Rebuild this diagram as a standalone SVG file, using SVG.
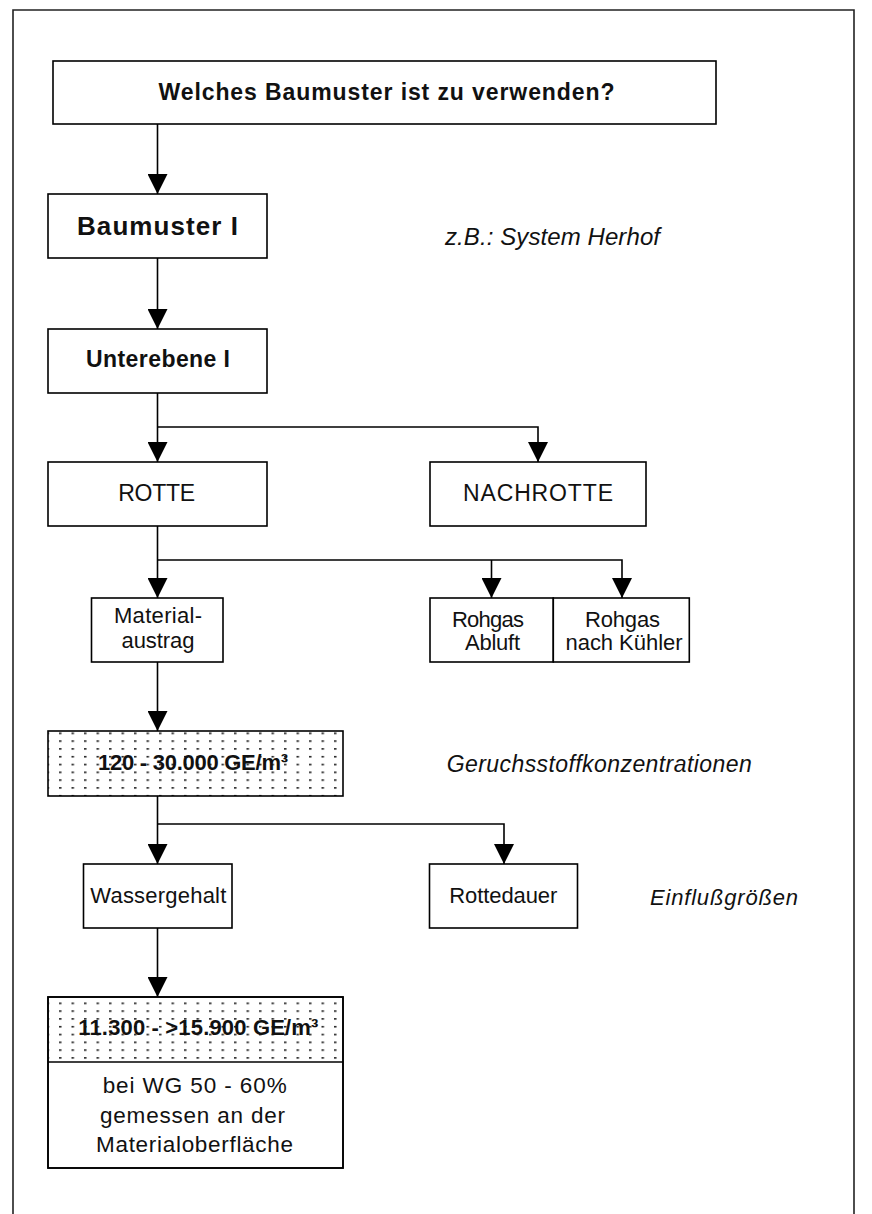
<svg xmlns="http://www.w3.org/2000/svg" width="872" height="1214" viewBox="0 0 872 1214">
<defs>
<style>
.box{fill:#fff;stroke:#000;stroke-width:1.6}
.dotbox{stroke:#000;stroke-width:1.6}
.con{fill:none;stroke:#000;stroke-width:1.6}
.t{font-family:"Liberation Sans",Arial,sans-serif;fill:#111}
.b{font-weight:bold}
.i{font-style:italic}
.m{text-anchor:middle}
</style>
<marker id="ah" markerUnits="userSpaceOnUse" markerWidth="20" markerHeight="20" refX="20" refY="10" orient="auto" viewBox="0 0 20 20">
<path d="M0,0 L20,10 L0,20 Z" fill="#000"/>
</marker>
<pattern id="dots1" patternUnits="userSpaceOnUse" x="59" y="732.5" width="12.5" height="7.8">
<rect x="0" y="0" width="2.5" height="1.6" fill="#222"/>
</pattern>
<pattern id="dots2" patternUnits="userSpaceOnUse" x="59" y="1002.5" width="12.5" height="7.8">
<rect x="0" y="0" width="2.5" height="1.6" fill="#222"/>
</pattern>
</defs>
<rect width="872" height="1214" fill="#fff"/>
<path d="M13,1214 V10 H854 V1214" fill="none" stroke="#222" stroke-width="1.6"/>

<g id="connectors">
<path class="con" d="M157.5,124 V194" marker-end="url(#ah)"/>
<path class="con" d="M157.5,258 V329" marker-end="url(#ah)"/>
<path class="con" d="M157.5,393 V462" marker-end="url(#ah)"/>
<path class="con" d="M157.5,427 H538 V462" marker-end="url(#ah)"/>
<path class="con" d="M157.5,526 V598" marker-end="url(#ah)"/>
<path class="con" d="M157.5,560 H622 V598" marker-end="url(#ah)"/>
<path class="con" d="M491.5,560 V598" marker-end="url(#ah)"/>
<path class="con" d="M157.5,662 V731" marker-end="url(#ah)"/>
<path class="con" d="M157.5,796 V864" marker-end="url(#ah)"/>
<path class="con" d="M157.5,824 H504 V864" marker-end="url(#ah)"/>
<path class="con" d="M157.5,928 V997" marker-end="url(#ah)"/>
</g>

<g id="title">
<rect class="box" x="53" y="61" width="663" height="63"/>
<text class="t b m" x="386.5" y="100" font-size="23" textLength="456">Welches Baumuster ist zu verwenden?</text>
</g>

<g id="baumuster">
<rect class="box" x="48" y="194" width="219" height="64"/>
<text class="t b m" x="157.5" y="235" font-size="26" textLength="161">Baumuster I</text>
</g>

<g id="note-herhof">
<text class="t i" x="445" y="245" font-size="24" textLength="215">z.B.: System Herhof</text>
</g>

<g id="unterebene">
<rect class="box" x="48" y="329" width="219" height="64"/>
<text class="t b m" x="158" y="367" font-size="23" textLength="144">Unterebene I</text>
</g>

<g id="rotte">
<rect class="box" x="48" y="462" width="219" height="64"/>
<text class="t m" x="156.7" y="501" font-size="23" textLength="77">ROTTE</text>
</g>

<g id="nachrotte">
<rect class="box" x="430" y="462" width="216" height="64"/>
<text class="t m" x="538" y="501" font-size="23" textLength="150">NACHROTTE</text>
</g>

<g id="materialaustrag">
<rect class="box" x="91.5" y="598" width="131.5" height="64"/>
<text class="t m" x="158" y="623" font-size="22" textLength="88">Material-</text>
<text class="t m" x="158" y="648" font-size="22" textLength="73">austrag</text>
</g>

<g id="rohgas-abluft">
<rect class="box" x="430" y="598" width="123.3" height="64"/>
<text class="t m" x="488" y="626.5" font-size="22" textLength="72">Rohgas</text>
<text class="t m" x="492.5" y="650" font-size="22" textLength="55">Abluft</text>
</g>

<g id="rohgas-kuehler">
<rect class="box" x="553.3" y="598" width="136" height="64"/>
<text class="t m" x="622.5" y="626.5" font-size="22" textLength="75">Rohgas</text>
<text class="t m" x="624" y="650" font-size="22" textLength="117">nach Kühler</text>
</g>

<g id="konzentration">
<rect x="48" y="731" width="295" height="65" fill="#fff"/>
<rect x="48" y="731" width="295" height="65" fill="url(#dots1)"/>
<rect class="dotbox" x="48" y="731" width="295" height="65" fill="none"/>
<text class="t b m" x="193" y="770" font-size="22" textLength="190">120 - 30.000 GE/m³</text>
</g>

<g id="note-geruch">
<text class="t i" x="446.7" y="771.5" font-size="23" textLength="305">Geruchsstoffkonzentrationen</text>
</g>

<g id="wassergehalt">
<rect class="box" x="83.5" y="864" width="148.5" height="64"/>
<text class="t m" x="158.3" y="903.3" font-size="22" textLength="136">Wassergehalt</text>
</g>

<g id="rottedauer">
<rect class="box" x="429.5" y="864" width="148" height="64"/>
<text class="t m" x="503.3" y="903.3" font-size="22" textLength="108">Rottedauer</text>
</g>

<g id="note-einfluss">
<text class="t i" x="650" y="905" font-size="22" textLength="148">Einflußgrößen</text>
</g>

<g id="ergebnis">
<rect class="box" x="48" y="997" width="295" height="171"/>
<rect x="48" y="997" width="295" height="65" fill="url(#dots2)"/>
<line class="con" x1="48" y1="1062" x2="343" y2="1062"/>
<rect class="dotbox" x="48" y="997" width="295" height="171" fill="none"/>
<text class="t b m" x="198.3" y="1035" font-size="22" textLength="240">11.300 - &gt;15.900 GE/m³</text>
<text class="t m" x="194.7" y="1092.7" font-size="22.5" textLength="184">bei WG 50 - 60%</text>
<text class="t m" x="192.5" y="1123" font-size="22.5" textLength="185">gemessen an der</text>
<text class="t m" x="194.5" y="1151.7" font-size="22.5" textLength="197">Materialoberfläche</text>
</g>
</svg>
